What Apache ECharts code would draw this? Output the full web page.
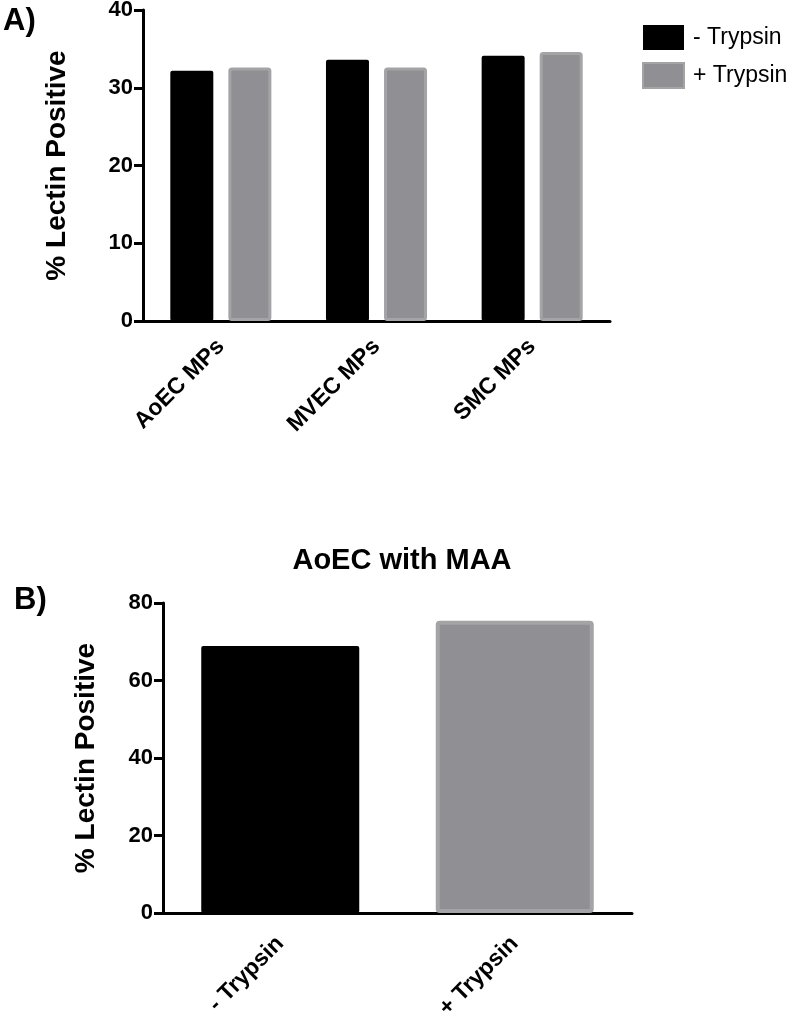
<!DOCTYPE html>
<html>
<head>
<meta charset="utf-8">
<script src="https://cdn.jsdelivr.net/npm/echarts@6/dist/echarts.min.js"></script>
<style>
  html, body { margin: 0; padding: 0; background: #fff; }
  #chart { width: 798px; height: 1012px; }
</style>
</head>
<body>
<div id="chart"></div>
<script>
// panel A
const categoriesA = ['AoEC MPs', 'MVEC MPs', 'SMC MPs'];
const minusTrypsinA = [32.2, 33.6, 34.1];
const plusTrypsinA = [32.6, 32.6, 34.6];
const yTicksA = [0, 10, 20, 30, 40];

// panel B
const categoriesB = ['- Trypsin', '+ Trypsin'];
const valuesB = [68.9, 75.4];
const yTicksB = [0, 20, 40, 60, 80];

const font = 'Liberation Sans, Arial, Helvetica, sans-serif';
const black = '#000000';
const grayFill = '#909094';
const grayBorder = '#a4a4a7';

function valueAxis(gridIndex, ticks, gap) {
  return {
    type: 'value',
    gridIndex: gridIndex,
    min: ticks[0],
    max: ticks[ticks.length - 1],
    interval: ticks[1] - ticks[0],
    name: '% Lectin Positive',
    nameLocation: 'middle',
    nameGap: gap,
    nameTextStyle: { fontFamily: font, fontWeight: 'bold', fontSize: 28, color: '#000' },
    axisLine: { show: true, lineStyle: { color: '#000', width: 3 } },
    axisTick: { show: true, length: 9, lineStyle: { color: '#000', width: 3 } },
    axisLabel: { fontFamily: font, fontWeight: 'bold', fontSize: 22, color: '#000', margin: 10 },
    splitLine: { show: false }
  };
}

function categoryAxis(gridIndex, data, margin) {
  return {
    type: 'category',
    gridIndex: gridIndex,
    data: data,
    axisLine: { lineStyle: { color: '#000', width: 3 } },
    axisTick: { alignWithLabel: true, length: 10, lineStyle: { color: '#000', width: 3 } },
    axisLabel: { rotate: 45, fontFamily: font, fontWeight: 'bold', fontSize: 23, color: '#000', margin: margin, interval: 0 }
  };
}

let chart = echarts.init(document.getElementById('chart'));
chart.setOption({
  animation: false,
  title: {
    text: 'AoEC with MAA',
    left: 397,
    textAlign: 'center',
    top: 541,
    textStyle: { fontFamily: font, fontWeight: 'bold', fontSize: 29, color: '#000' }
  },
  legend: {
    data: ['- Trypsin', '+ Trypsin'],
    orient: 'vertical',
    left: 637,
    top: 20,
    itemWidth: 41,
    itemHeight: 25,
    itemGap: 12,
    icon: 'rect',
    textStyle: { fontFamily: font, fontSize: 23, color: '#000', padding: [0, 0, 0, 4] }
  },
  graphic: [
    { type: 'text', left: 3, top: 6, style: { text: 'A)', font: 'bold 31px ' + font, fill: '#000' } },
    { type: 'text', left: 14, top: 585, style: { text: 'B)', font: 'bold 31px ' + font, fill: '#000' } }
  ],
  grid: [
    { left: 143, top: 10, width: 467, height: 311, outerBoundsMode: 'none' },
    { left: 163, top: 603, width: 469, height: 310, outerBoundsMode: 'none' }
  ],
  xAxis: [
    categoryAxis(0, categoriesA, 22),
    categoryAxis(1, categoriesB, 27)
  ],
  yAxis: [
    valueAxis(0, yTicksA, 72),
    valueAxis(1, yTicksB, 63)
  ],
  series: [
    {
      name: '- Trypsin',
      type: 'bar',
      xAxisIndex: 0,
      yAxisIndex: 0,
      barWidth: 43,
      barGap: '35%',
      itemStyle: { color: black, borderRadius: 2 },
      data: minusTrypsinA
    },
    {
      name: '+ Trypsin',
      type: 'bar',
      xAxisIndex: 0,
      yAxisIndex: 0,
      barWidth: 43,
      barGap: '35%',
      itemStyle: { color: grayFill, borderColor: grayBorder, borderWidth: 3, borderRadius: 2 },
      data: plusTrypsinA
    },
    {
      name: 'AoEC with MAA',
      type: 'bar',
      xAxisIndex: 1,
      yAxisIndex: 1,
      barWidth: 158,
      data: [
        { value: valuesB[0], itemStyle: { color: black, borderRadius: 2 } },
        { value: valuesB[1], itemStyle: { color: grayFill, borderColor: grayBorder, borderWidth: 4, borderRadius: 2 } }
      ]
    }
  ]
});
</script>
</body>
</html>
